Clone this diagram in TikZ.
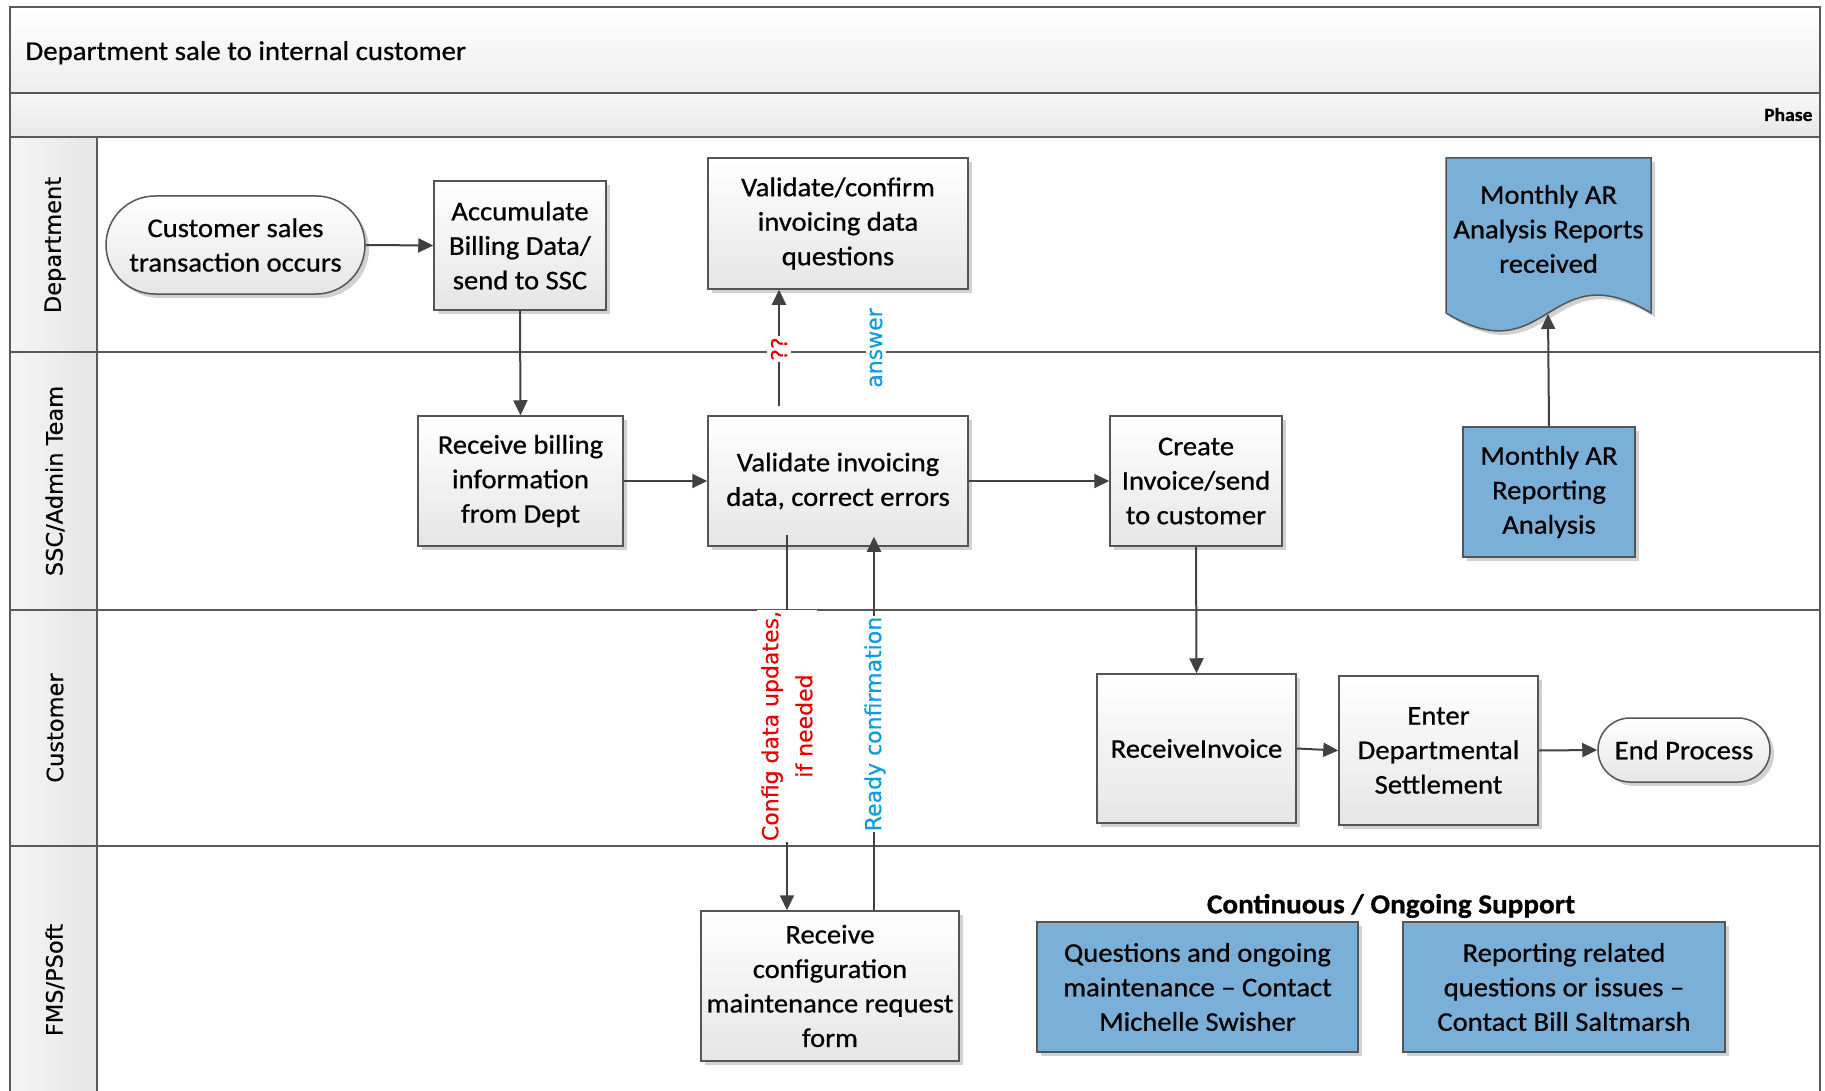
\documentclass[tikz,border=0pt]{standalone}
\usepackage{fontspec}
\setmainfont{Carlito}[FakeStretch=1.06, FakeBold=0.7]
\newfontfamily\lanefont{DejaVu Sans}[FakeBold=0.4]
\usetikzlibrary{arrows.meta,shadows}

\definecolor{frameline}{HTML}{595959}
\definecolor{boxline}{HTML}{555555}
\definecolor{arrowgray}{HTML}{414141}
\definecolor{bluefill}{HTML}{7AB0D8}
\definecolor{labelred}{HTML}{E80000}
\definecolor{labelblue}{HTML}{0A9FDA}

\tikzset{
  frame/.style={draw=frameline, line width=2pt},
  box/.style={draw=boxline, line width=1.5pt, align=center, inner sep=0pt,
    font=\fontsize{27}{34.5}\selectfont,
    drop shadow={shadow xshift=4pt, shadow yshift=-4pt, opacity=0.18, fill=black}},
  proc/.style={box, top color=white, bottom color=black!10},
  bluebox/.style={box, fill=bluefill},
  terminal/.style={proc, rounded corners=#1},
  arr/.style={draw=arrowgray, line width=2pt, -{Triangle[length=15pt,width=14pt]}},
  lanelbl/.style={font=\lanefont\fontsize{22.5}{27}\selectfont, rotate=90},
  elab/.style={font=\lanefont\fontsize{22}{34}\selectfont, fill=white, rotate=90,
    inner xsep=1pt, inner ysep=4pt, align=center},
}

\begin{document}
\begin{tikzpicture}[x=1pt, y=-1pt]
\useasboundingbox (0,0) rectangle (1825,1091);
\clip (0,0) rectangle (1825,1091);

% pool background: title band, phase band, lane header column
\fill[top color=white, bottom color=black!7] (10,7) rectangle (1820,93);
\fill[top color=black!3, bottom color=black!9] (10,93) rectangle (1820,137);
\fill[left color=black!4, right color=black!10] (10,137) rectangle (97,1100);

% pool outline and lane separators
\draw[frame] (10,1100) -- (10,7) -- (1820,7) -- (1820,1100);
\draw[frame] (10,93) -- (1820,93);
\draw[frame] (10,137) -- (1820,137);
\draw[frame] (97,137) -- (97,1100);
\draw[frame] (10,352) -- (1820,352);
\draw[frame] (10,610) -- (1820,610);
\draw[frame] (10,846) -- (1820,846);

\node[anchor=base west, font=\fontsize{27.2}{33}\selectfont] (title) at (22,60) {Department sale to internal customer};
\node[anchor=base east, font=\bfseries\fontsize{18.5}{22}\selectfont] (phase) at (1816,121) {Phase};

% lane names
\node[lanelbl] (laneDept) at (55,245) {Department};
\node[lanelbl] (laneSSC) at (55,481) {SSC/Admin Team};
\node[lanelbl] (laneCust) at (55,728) {Customer};
\node[lanelbl] (laneFMS) at (55,980) {FMS/PSoft};

% Department lane
\node[terminal=49pt, minimum width=259pt, minimum height=98pt] (start) at (235.5,245) {Customer sales\\transaction occurs};
\node[proc, minimum width=172pt, minimum height=129pt] (acc) at (520,245.5) {Accumulate\\Billing Data/\\send to SSC};
\node[proc, minimum width=260pt, minimum height=131pt] (vq) at (838,223.5) {Validate/confirm\\invoicing data\\questions};

% document shape for the monthly reports
\path[draw=boxline, line width=1.5pt, fill=bluefill,
  drop shadow={shadow xshift=4pt, shadow yshift=-4pt, opacity=0.18, fill=black}]
  (1446,158) -- (1651,158) -- (1651,313)
  .. controls (1548,251) and (1548,375) .. (1446,313) -- cycle;
\node[align=center, font=\fontsize{27}{34.5}\selectfont] (docAR) at (1548.5,229) {Monthly AR\\Analysis Reports\\received};
\coordinate (docWave) at (1548,314);

% SSC/Admin lane
\node[proc, minimum width=205pt, minimum height=130pt] (rb) at (520.5,481) {Receive billing\\information\\from Dept};
\node[proc, minimum width=260pt, minimum height=130pt] (val) at (838,481) {Validate invoicing\\data, correct errors};
\node[proc, minimum width=172pt, minimum height=130pt] (cr) at (1196,481) {Create\\Invoice/send\\to customer};
\node[bluebox, minimum width=172pt, minimum height=130pt] (rep) at (1549,492) {Monthly AR\\Reporting\\Analysis};

% Customer lane
\node[proc, minimum width=199pt, minimum height=149pt] (ri) at (1196.5,748.5) {ReceiveInvoice};
\node[proc, minimum width=199pt, minimum height=149pt] (ent) at (1438.5,750.5) {Enter\\Departmental\\Settlement};
\node[terminal=32pt, minimum width=172pt, minimum height=64pt] (endp) at (1684,750) {End Process};

% FMS/PSoft lane
\node[proc, minimum width=258pt, minimum height=150pt] (rc) at (830,986) {Receive\\configuration\\maintenance request\\form};
\node[font=\bfseries\fontsize{27.5}{30}\selectfont] (support) at (1391,906) {Continuous / Ongoing Support};
\node[bluebox, minimum width=321pt, minimum height=130pt] (q1) at (1197.5,987) {Questions and ongoing\\maintenance -- Contact\\Michelle Swisher};
\node[bluebox, minimum width=322pt, minimum height=130pt] (q2) at (1564,987) {Reporting related\\questions or issues --\\Contact Bill Saltmarsh};

% flow connectors
\draw[arr] (start.east) -- (acc.west);
\draw[arr] (acc.south) -- (rb.north);
\draw[arr] (rb.east) -- (val.west);
\draw[arr] (val.east) -- (cr.west);
\draw[arr] ([xshift=-59pt, yshift=9pt]val.north) -- ([xshift=-59pt]vq.south);
\draw[arr] ([xshift=-51pt, yshift=12pt]val.south) -- ([xshift=-43pt]rc.north);
\draw[arr] ([xshift=44pt]rc.north) -- ([xshift=36pt, yshift=10pt]val.south);
\draw[arr] (cr.south) -- (ri.north);
\draw[arr] (ri.east) -- (ent.west);
\draw[arr] (ent.east) -- (endp.west);
\draw[arr] (rep.north) -- (docWave);

% connector labels
\node[elab, text=labelred] (lblQ) at (779,349) {??};
\node[elab, text=labelblue] (lblAns) at (876,348) {answer};
\node[elab, text=labelred] (lblCfg) at (787,726) {Config data updates,\\if needed};
\node[elab, text=labelblue] (lblReady) at (875,724) {Ready confirmation};
\end{tikzpicture}
\end{document}
